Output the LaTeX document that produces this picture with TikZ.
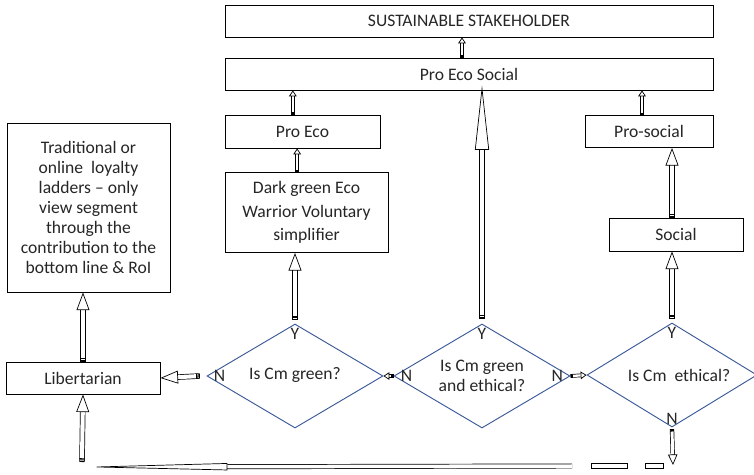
\documentclass[tikz,border=0pt]{standalone}
\usepackage{fontspec}
\setmainfont{Carlito}
\usetikzlibrary{shapes.geometric,arrows.meta,calc}
\definecolor{askblue}{RGB}{59,89,152}
\tikzset{
  Stripes/.tip={Rectangle[open,length=1.2pt,width=4.5pt,sep=0.8pt]Rectangle[open,length=1.2pt,width=4.5pt]},
}

\begin{document}
\begin{tikzpicture}[x=0.03cm,y=-0.03cm,
  every node/.style={font=\fontsize{15}{17.2}\selectfont,text=black!85},
  box/.style={draw,line width=0.8pt,inner sep=2pt,align=center},
  ask/.style={diamond,aspect=1.7,draw=askblue,line width=0.8pt,inner sep=0pt,minimum width=5.28cm,minimum height=3.12cm,align=center},
  yn/.style={inner sep=1pt},
  blk/.style={double=white,line width=0.6pt,double distance=3.5pt,Stripes-{Triangle[open,length=15pt,width=11pt]}},
  tiny/.style={double=white,line width=0.6pt,double distance=2pt,{Rectangle[length=2pt,width=3.2pt]}-{Triangle[open,length=5pt,width=6.5pt]}},
  longblk/.style={double=white,line width=0.6pt,double distance=3.5pt,Stripes-{Triangle[open,length=55pt,width=12pt]}}]
\useasboundingbox (0,0) rectangle (754,474);

% boxes
\node[box,minimum width=14.64cm,minimum height=0.96cm] (sust) at (469,21) {SUSTAINABLE STAKEHOLDER};
\node[box,minimum width=14.64cm,minimum height=0.96cm] (ecosoc) at (469,74) {Pro Eco Social};
\node[box,minimum width=4.65cm,minimum height=0.99cm] (proeco) at (302.5,131.5) {Pro Eco};
\node[box,minimum width=3.84cm,minimum height=0.96cm] (prosoc) at (649,131.5) {Pro-social};
\node[box,minimum width=4.89cm,minimum height=2.4cm,font=\fontsize{15}{20}\selectfont] (dark) at (306.5,212.5) {Dark green Eco\\Warrior Voluntary\\simplifier};
\node[box,minimum width=4.89cm,minimum height=5.07cm] (trad) at (88.5,207.5) {Traditional or\\online\ \ loyalty\\ladders -- only\\view segment\\through the\\contribution to the\\bottom line \& RoI};
\node[box,minimum width=4.62cm,minimum height=0.96cm] (lib) at (83,378) {Libertarian};
\node[box,minimum width=4.02cm,minimum height=0.99cm] (social) at (676,234.5) {Social};

% questions
\node[ask] (green) at (295,376) {\raisebox{4pt}{Is Cm green?}};
\node[ask] (both) at (482,376) {Is Cm green\\and ethical?};
\node[ask,minimum width=5.1cm] (ethic) at (672,375) {\hspace*{12pt}Is Cm\ \ ethical?};

% Y and N
\node[yn,anchor=north] at ([yshift=-0.1cm]green.north) {Y};
\node[yn,anchor=north] at ([yshift=-0.1cm]both.north) {Y};
\node[yn,anchor=north] at ([yshift=-0.1cm]ethic.north) {Y};
\node[yn,anchor=west] at ([xshift=0.18cm]green.west) {N};
\node[yn,anchor=west] at ([xshift=0.18cm]both.west) {N};
\node[yn,anchor=east] at ([xshift=-0.18cm]both.east) {N};
\node[yn,anchor=south] at ([yshift=0.05cm]ethic.south) {N};

\coordinate (drop) at (673,465);
\coordinate (dashend) at (572,466);
\coordinate (corner) at (82,467);

% connectors
\draw[tiny] ([xshift=-0.21cm]ecosoc.north) -- ([xshift=-0.21cm]sust.south);
\draw[tiny] ([xshift=-0.29cm]proeco.north) -- ([xshift=-0.29cm]proeco.north |- ecosoc.south);
\draw[tiny] ([xshift=-0.21cm]prosoc.north) -- ([xshift=-0.21cm]prosoc.north |- ecosoc.south);
\draw[tiny] ([xshift=-0.28cm]dark.north) -- ([xshift=-0.28cm]dark.north |- proeco.south);
\draw[blk] ([yshift=0.1cm]green.north) -- (green.north |- dark.south);
\draw[blk] ([yshift=0.1cm]ethic.north) -- (ethic.north |- social.south);
\draw[blk] ([xshift=-0.12cm]social.north) -- ([xshift=-0.12cm]social.north |- prosoc.south);
\draw[longblk] ([yshift=0.15cm]both.north) -- ([yshift=0.15cm]both.north |- ecosoc.south);
\draw[blk] ([xshift=-0.2cm]green.west) -- (lib.east);
\draw[blk] (lib.north) -- (lib.north |- trad.south);
\draw[tiny] (both.west) -- (green.east);
\draw[tiny] (both.east) -- (ethic.west);
\draw[double=white,line width=0.6pt,double distance=2.5pt,{Rectangle[length=2pt,width=3.5pt]}-{Triangle[open,length=9pt,width=8pt]}] ([yshift=-0.05cm]ethic.south) -- (drop);
\draw[double=white,line width=0.6pt,double distance=3pt,-{Triangle[open,length=124pt,width=6pt]}] (dashend) -- (corner);
\draw[line width=0.6pt] (591,463.5) rectangle (627,468.5) (645,463.5) rectangle (663,468.5);
\draw[blk] ([yshift=0.15cm]corner) -- (lib.south);
\end{tikzpicture}
\end{document}
